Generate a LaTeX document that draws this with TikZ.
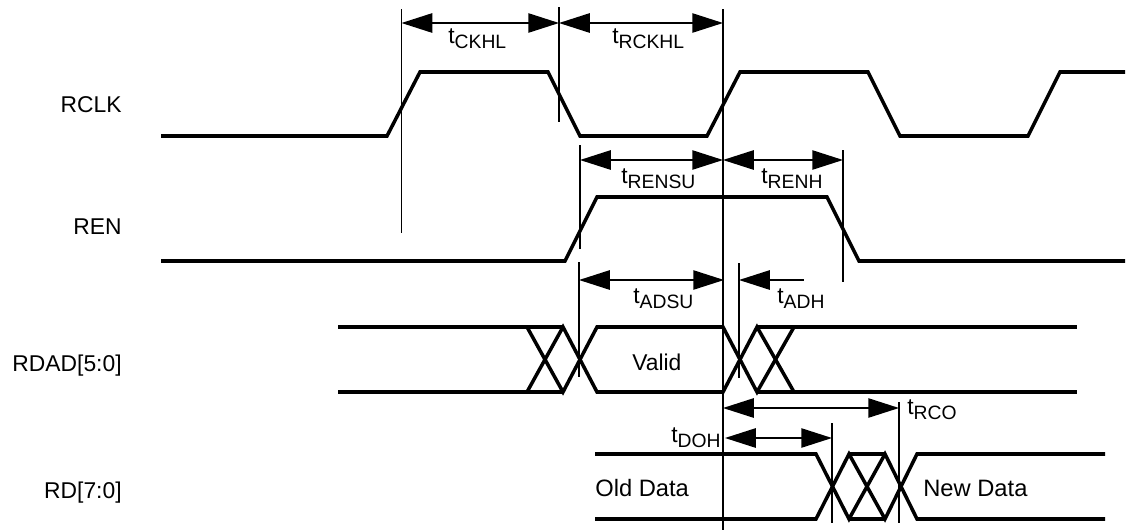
\documentclass[tikz,border=0pt]{standalone}
\usepackage{fontspec}
\setmainfont{Liberation Sans}
\usetikzlibrary{arrows.meta}

\tikzset{
    signal/.style={line width=2pt, line join=miter},
    marker/.style={line width=0.9pt},
    span/.style={line width=0.9pt, {Triangle[length=17.5pt,width=11pt]}-{Triangle[length=17.5pt,width=11pt]}},
    halfspan/.style={line width=0.9pt, {Triangle[length=17.5pt,width=11pt]}-},
    txt/.style={inner sep=0pt, anchor=base west, font=\fontsize{13}{15}\selectfont},
    datatxt/.style={inner sep=0pt, anchor=base west, font=\fontsize{13.5}{15}\selectfont},
    rowname/.style={inner sep=0pt, anchor=base east, font=\fontsize{13}{15}\selectfont}
}
\newcommand{\tname}[1]{t\raisebox{-3.4pt}{\fontsize{11}{13}\selectfont #1}}

\begin{document}
\begin{tikzpicture}[x=0.02cm, y=-0.02cm]

\useasboundingbox (0,0) rectangle (1140,531);

% Row names
\node[rowname] (rclk) at (122,112) {RCLK};
\node[rowname] (ren) at (122,234) {REN};
\node[rowname] (rdad) at (122,371) {RDAD[5:0]};
\node[rowname] (rd) at (122,498) {RD[7:0]};

% RCLK
\draw[signal] (161,136) -- (387,136) -- (420,72) -- (548,72) -- (580,136) -- (707,136)
    -- (740,72) -- (868,72) -- (900,136) -- (1028,136) -- (1060,72) -- (1125,72);

% REN
\draw[signal] (161,261) -- (565,261) -- (597,197) -- (827,197) -- (859,261) -- (1125,261);

% RDAD
\draw[signal] (338,327) -- (563,327);
\draw[signal] (338,392) -- (563,392);
\draw[signal] (527,327) -- (563,392) -- (597,327) -- (723,327) -- (757,392) -- (794,327);
\draw[signal] (527,392) -- (563,327) -- (597,392) -- (723,392) -- (757,327) -- (794,392);
\draw[signal] (757,327) -- (1077,327);
\draw[signal] (757,392) -- (1077,392);

% RD
\draw[signal] (595,454) -- (816,454) -- (849,519) -- (885,454) -- (917,519) -- (1105,519);
\draw[signal] (595,519) -- (816,519) -- (849,454) -- (885,519) -- (917,454) -- (1105,454);
\draw[signal] (849,454) -- (885,454);
\draw[signal] (849,519) -- (885,519);

% Vertical markers
\draw[marker] (401.5,9) -- (401.5,233);
\draw[marker] (559,7) -- (559,122);
\draw[marker] (723,9) -- (723,530);
\draw[marker] (580,145) -- (580,249);
\draw[marker] (843,150) -- (843,282);
\draw[marker] (579,262) -- (579,377);
\draw[marker] (739,263) -- (739,378);
\draw[marker] (832,423) -- (832,523);
\draw[marker] (899,402) -- (899,523);

% Dimension lines
\draw[span] (401.5,23) -- (559,23);
\draw[span] (559,23) -- (723,23);
\draw[span] (580,160) -- (723,160);
\draw[span] (723,160) -- (843,160);
\draw[span] (579,280) -- (724,280);
\draw[halfspan] (739,280) -- (804,280);
\draw[span] (723,408) -- (899,408);
\draw[span] (725,438) -- (832,438);

% Timing names
\node[txt] (tckhl) at (448,43) {\tname{CKHL}};
\node[txt] (trckhl) at (612,43) {\tname{RCKHL}};
\node[txt] (trensu) at (621,183) {\tname{RENSU}};
\node[txt] (trenh) at (761,183) {\tname{RENH}};
\node[txt] (tadsu) at (633,303) {\tname{ADSU}};
\node[txt] (tadh) at (777,303) {\tname{ADH}};
\node[txt] (trco) at (907,414) {\tname{RCO}};
\node[txt] (tdoh) at (671,442) {\tname{DOH}};

% Data labels
\node[txt] (valid) at (632,370) {Valid};
\node[datatxt] (olddata) at (595,496) {Old Data};
\node[datatxt] (newdata) at (923,496) {New Data};

\end{tikzpicture}
\end{document}
